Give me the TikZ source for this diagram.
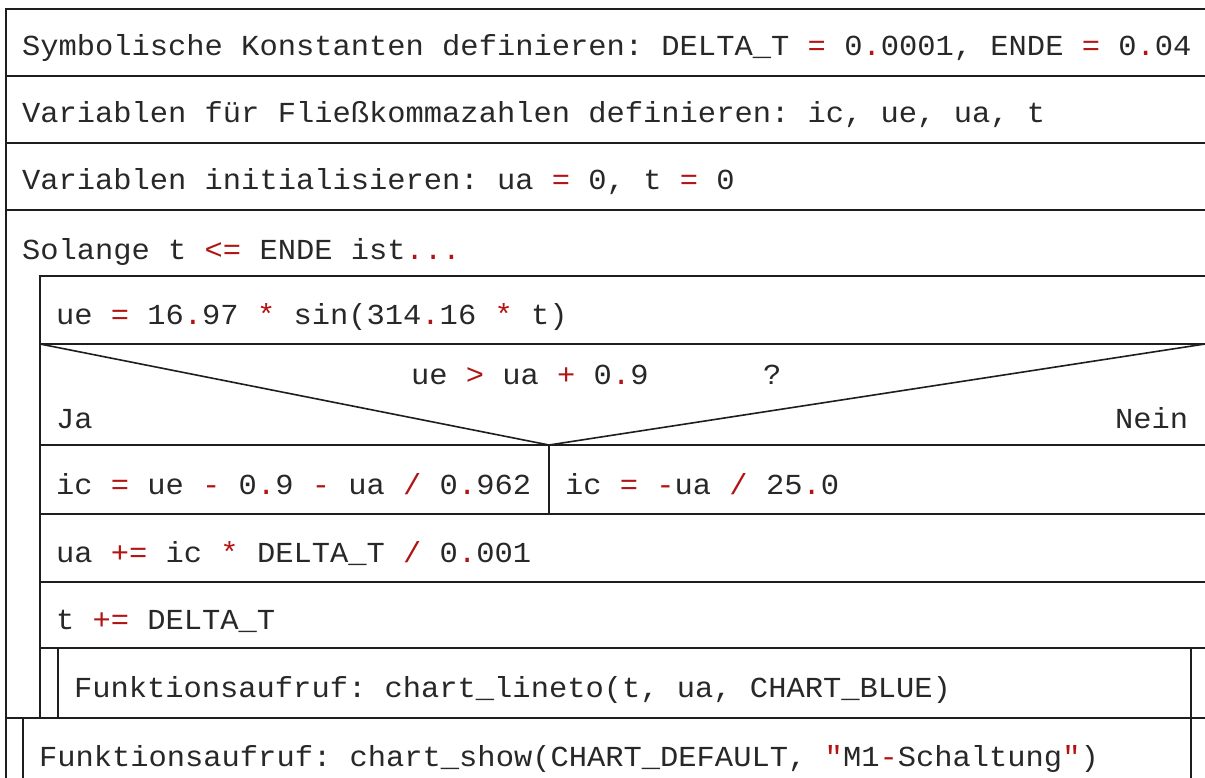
\documentclass[tikz,border=0pt]{standalone}
\usepackage{fontspec}
\setmonofont[FakeStretch=1.05]{Liberation Mono}
\usepackage{xcolor}
\definecolor{opred}{RGB}{178,20,20}
\definecolor{txt}{RGB}{40,40,40}
\definecolor{ln}{RGB}{30,30,30}
\newcommand{\op}[1]{\textcolor{opred}{#1}}
\tikzset{
  lbl/.style={anchor=base west, inner sep=0pt, outer sep=0pt, text=txt, font=\fontsize{29}{29}\selectfont\ttfamily},
  frame/.style={draw=ln, line width=1.6pt},
  diag/.style={draw=ln, line width=1.6pt, line join=miter}
}
\begin{document}
\begin{tikzpicture}[x=1pt,y=-1pt]
\useasboundingbox (0,0) rectangle (1205,778);
\fill[white] (0,0) rectangle (1205,778);
% outer frame
\draw[frame] (1210,9) -- (6,9) -- (6,790);
\draw[frame] (6,76) -- (1210,76);
\draw[frame] (6,143) -- (1210,143);
\draw[frame] (6,210) -- (1210,210);
% loop body
\draw[frame] (1210,276) -- (40,276) -- (40,718);
\draw[frame] (40,344) -- (1210,344);
\draw[frame] (40,445) -- (1210,445);
\draw[frame] (40,514) -- (1210,514);
\draw[frame] (40,582) -- (1210,582);
\draw[frame] (40,648) -- (1210,648);
\draw[frame] (6,718) -- (1210,718);
% decision
\coordinate (dl) at (40,344);
\coordinate (dm) at (549,445);
\coordinate (dr) at (1205,344);
\draw[diag] (dl) -- (dm) -- (dr);
\draw[frame] (dm) -- (549,514);
% call boxes
\draw[frame] (58,648) -- (58,718);
\draw[frame] (1191,648) -- (1191,790);
\draw[frame] (23,718) -- (23,790);
% texts
\node[lbl] (t1) at (22,56) {Symbolische Konstanten definieren: DELTA\_T \op{=} 0\op{.}0001, ENDE \op{=} 0\op{.}04};
\node[lbl] (t2) at (22,123) {Variablen für Fließkommazahlen definieren: ic, ue, ua, t};
\node[lbl] (t3) at (22,190) {Variablen initialisieren: ua \op{=} 0, t \op{=} 0};
\node[lbl] (t4) at (22,259) {Solange t \op{<=} ENDE ist\op{...}};
\node[lbl] (t5) at (56,324) {ue \op{=} 16\op{.}97 \op{*} sin(314\op{.}16 \op{*} t)};
\node[lbl] (cond) at (411,384) {ue \op{>} ua \op{+} 0\op{.}9};
\node[lbl] (q) at (763,384) {?};
\node[lbl] (ja) at (56,428) {Ja};
\node[lbl] (nein) at (1115,428) {Nein};
\node[lbl] (t6) at (56,494) {ic \op{=} ue \op{-} 0\op{.}9 \op{-} ua \op{/} 0\op{.}962};
\node[lbl] (t7) at (565,494) {ic \op{=} \op{-}ua \op{/} 25\op{.}0};
\node[lbl] (t8) at (56,562) {ua \op{+=} ic \op{*} DELTA\_T \op{/} 0\op{.}001};
\node[lbl] (t9) at (56,629) {t \op{+=} DELTA\_T};
\node[lbl] (t10) at (74,697) {Funktionsaufruf: chart\_lineto(t, ua, CHART\_BLUE)};
\node[lbl] (t11) at (39,766) {Funktionsaufruf: chart\_show(CHART\_DEFAULT, \op{"}M1\op{-}Schaltung\op{"})};
\end{tikzpicture}
\end{document}
